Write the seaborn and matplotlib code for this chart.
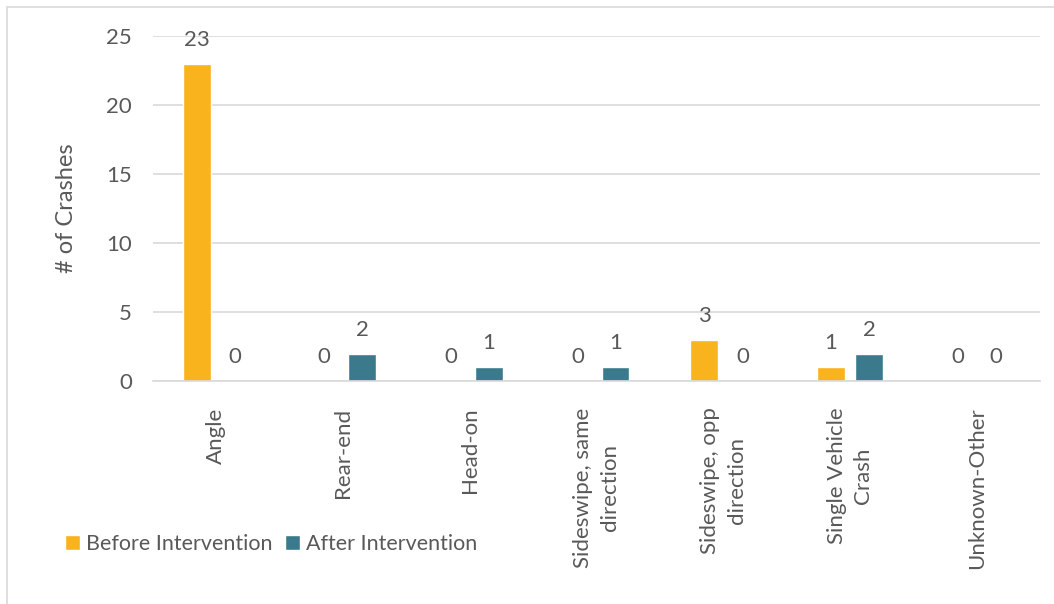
import pandas as pd
import matplotlib.pyplot as plt
import seaborn as sns
from matplotlib.patches import Rectangle

sns.set_theme(style="white")
plt.rcParams["font.family"] = ["Lato", "DejaVu Sans"]

# Données
categories = ["Angle", "Rear-end", "Head-on", "Sideswipe, same\ndirection",
              "Sideswipe, opp\ndirection", "Single Vehicle\nCrash", "Unknown-Other"]
before = [23, 0, 0, 0, 3, 1, 0]
after = [0, 2, 1, 1, 0, 2, 0]
series = ["Before Intervention", "After Intervention"]
colors = ["#F9B31C", "#3A7A8C"]

df = pd.DataFrame({
    "Type": categories * 2,
    "Crashes": before + after,
    "Période": [series[0]] * len(categories) + [series[1]] * len(categories),
})

fig = plt.figure(figsize=(10.54, 6.04), dpi=100)
ax = fig.add_axes([0.145, 0.369, 0.842, 0.571])

sns.barplot(data=df, x="Type", y="Crashes", hue="Période", palette=colors,
            width=0.6, gap=0.27, ax=ax, saturation=1, errorbar=None)

txt = "#595959"
for cont in ax.containers:
    ax.bar_label(cont, fmt="%d", padding=10, fontsize=16, color=txt)

ax.set_ylim(0, 25)
ax.set_yticks([0, 5, 10, 15, 20, 25])
ax.yaxis.grid(True, color="#d9d9d9", linewidth=1.2)
ax.set_axisbelow(True)
for s in ["top", "right", "left"]:
    ax.spines[s].set_visible(False)
ax.spines["bottom"].set_color("#d9d9d9")
ax.spines["bottom"].set_linewidth(1.2)
ax.tick_params(axis="both", length=0, labelsize=16, colors=txt)
ax.tick_params(axis="y", pad=15)
ax.tick_params(axis="x", pad=19)
plt.setp(ax.get_xticklabels(), rotation=90, ha="center", va="top",
         multialignment="center", linespacing=1.4)
ax.set_xlabel("")
ax.set_ylabel("# of Crashes", fontsize=17, color=txt, labelpad=21)

ax.get_legend().remove()
handles = ax.containers
fig.legend(handles, series, loc="center left", bbox_to_anchor=(0.062, 1 - 544 / 604),
           ncol=2, frameon=False, fontsize=15.5, labelcolor=txt, handlelength=0.7,
           handleheight=0.7, handletextpad=0.25, columnspacing=0.6,
           borderpad=0, borderaxespad=0)

# Cadre du graphique
fig.patches.append(Rectangle((7 / 1054, -0.1), 1.2, 1 - 7 / 604 + 0.1,
                             transform=fig.transFigure, fill=False,
                             edgecolor="#d9d9d9", linewidth=1.2))

fig.savefig("out.png", dpi=100)
